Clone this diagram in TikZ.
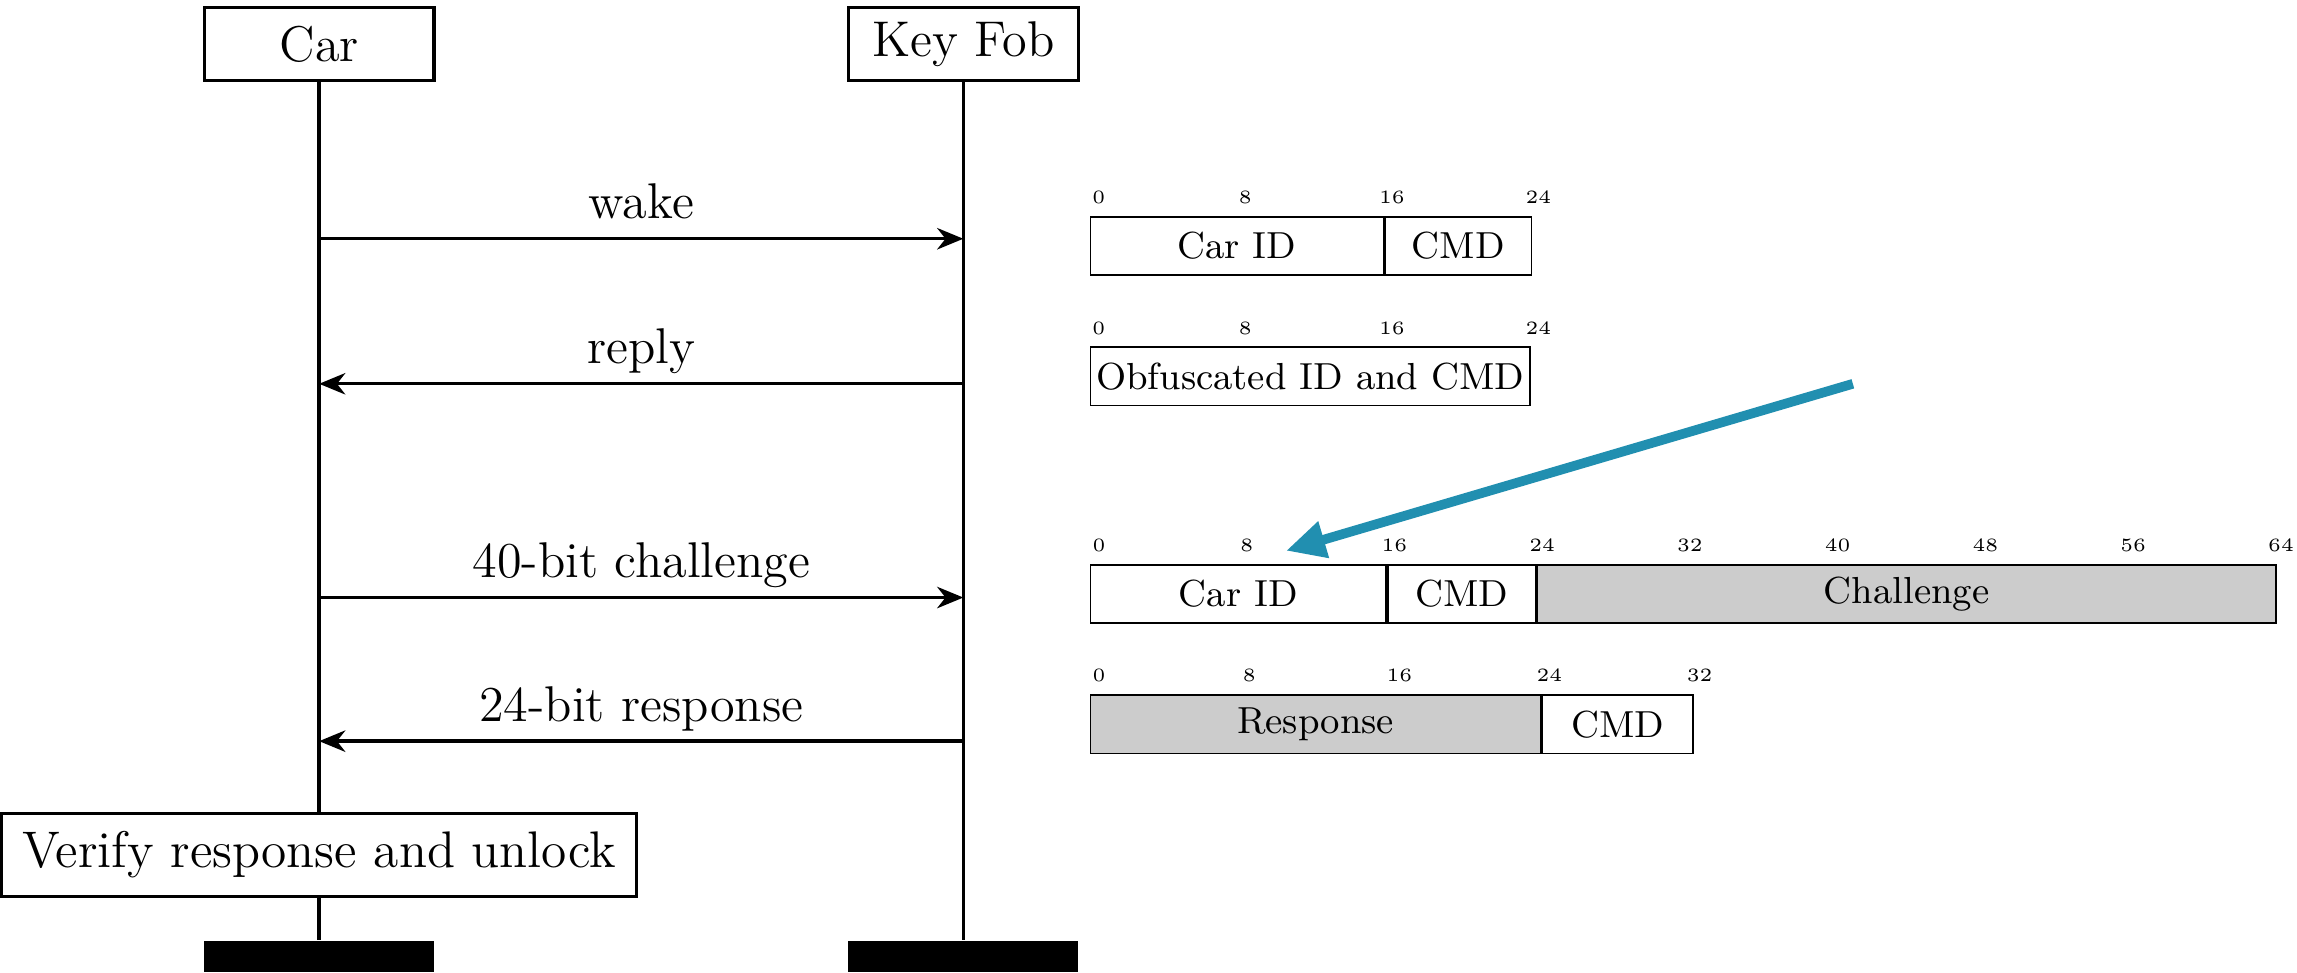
\documentclass[tikz,border=0pt]{standalone}
\usetikzlibrary{arrows.meta,positioning}
\definecolor{notecolor}{RGB}{33,143,176}
\tikzset{
	party/.style={draw, thick, minimum width=1.93cm, minimum height=0.615cm, font=\large},
	lifeend/.style={fill=black, minimum width=1.93cm, minimum height=0.26cm, inner sep=0pt},
	lifeline/.style={thick},
	msg/.style={thick, -{Stealth[length=2.2mm, width=1.8mm, inset=0.7mm]}},
	msglabel/.style={midway, above=1pt, text depth=0pt, font=\large},
	field/.style={draw, anchor=west, minimum height=0.49cm, inner sep=0pt, font=\fontsize{9}{11}\selectfont},
	bitlabel/.style={anchor=base, inner sep=0pt, font=\fontsize{4.5}{5}\selectfont},
	note/.style={notecolor, line width=2.3pt, -{Triangle[length=3.3mm, width=3mm]}}
}
\begin{document}
\begin{tikzpicture}
	\useasboundingbox (0,0) rectangle (19.29,-8.17);
	\node[party] (car) at (2.68,-0.37) {Car};
	\node[party] (fob) at (8.09,-0.37) {Key Fob};
	\node[party, minimum width=5.33cm, minimum height=0.7cm] (verify) at (2.68,-7.18) {\fontsize{12.3}{15}\selectfont Verify response and unlock};
	\node[lifeend] (carend) at (2.68,-8.03) {};
	\node[lifeend] (fobend) at (8.09,-8.03) {};
	\draw[lifeline] (car) -- (verify);
	\draw[lifeline] (verify) -- (carend);
	\draw[lifeline] (fob) -- (fobend);
	\coordinate (m1) at (0,-2.005);
	\coordinate (m2) at (0,-3.223);
	\coordinate (m3) at (0,-5.018);
	\coordinate (m4) at (0,-6.224);
	\draw[msg] (car |- m1) -- (fob |- m1) node[msglabel] (wake) {wake};
	\draw[msg] (fob |- m2) -- (car |- m2) node[msglabel] (reply) {reply};
	\draw[msg] (car |- m3) -- (fob |- m3) node[msglabel] (chal) {40-bit challenge};
	\draw[msg] (fob |- m4) -- (car |- m4) node[msglabel] (resp) {24-bit response};
	\node[field, minimum width=2.46cm] (p1id) at (9.151,-2.066) {Car ID};
	\node[field, minimum width=1.23cm] (p1cmd) at (p1id.east) {CMD};
	\foreach \b in {0,8,16,24}
		\node[bitlabel] (h1-\b) at ({9.151+(\b+0.5)*0.1538},-1.711) {\b};
	\node[field, minimum width=3.69cm] (p2obf) at (9.151,-3.161) {Obfuscated ID and CMD};
	\foreach \b in {0,8,16,24}
		\node[bitlabel] (h2-\b) at ({9.151+(\b+0.5)*0.1538},-2.806) {\b};
	\node[field, minimum width=2.482cm] (p3id) at (9.151,-4.988) {Car ID};
	\node[field, minimum width=1.241cm] (p3cmd) at (p3id.east) {CMD};
	\node[field, minimum width=6.204cm, fill=black!20] (p3chal) at (p3cmd.east) {Challenge};
	\foreach \b in {0,8,...,64}
		\node[bitlabel] (h3-\b) at ({9.151+(\b+0.5)*0.1551},-4.633) {\b};
	\node[field, minimum width=3.782cm, fill=black!20] (p4resp) at (9.151,-6.082) {Response};
	\node[field, minimum width=1.261cm] (p4cmd) at (p4resp.east) {CMD};
	\foreach \b in {0,8,...,32}
		\node[bitlabel] (h4-\b) at ({9.151+(\b+0.5)*0.1576},-5.727) {\b};
	\coordinate (notefrom) at (15.56,-3.223);
	\coordinate (noteto) at (10.80,-4.625);
	\draw[note] (notefrom) -- (noteto);
\end{tikzpicture}
\end{document}
